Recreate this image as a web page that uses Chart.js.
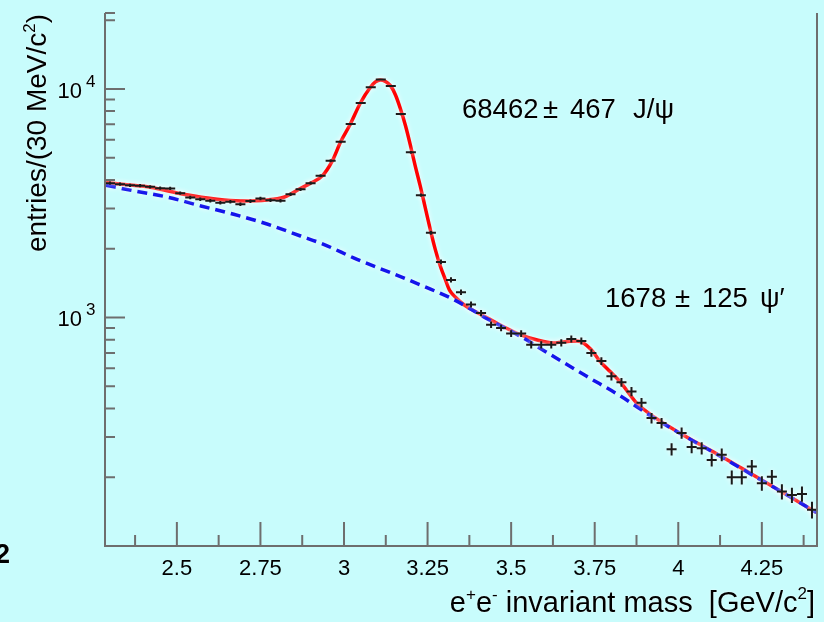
<!DOCTYPE html>
<html>
<head>
<meta charset="utf-8">
<script src="https://cdn.jsdelivr.net/npm/chart.js@4.4.1/dist/chart.umd.min.js"></script>
<style>
  html, body { margin: 0; padding: 0; background: rgb(200,252,252); }
  canvas { display: block; }
</style>
</head>
<body>
<canvas id="mass" width="824" height="622"></canvas>
<script>
// e+e- invariant mass spectrum, 30 MeV/c^2 bins
const binCentres = [
  2.30, 2.33, 2.36, 2.39, 2.42, 2.45, 2.48, 2.51, 2.54, 2.57, 2.60, 2.63,
  2.66, 2.69, 2.72, 2.75, 2.78, 2.81, 2.84, 2.87, 2.90, 2.93, 2.96, 2.99,
  3.02, 3.05, 3.08, 3.11, 3.14, 3.17, 3.20, 3.23, 3.26, 3.29, 3.32, 3.35,
  3.38, 3.41, 3.44, 3.47, 3.50, 3.53, 3.56, 3.59, 3.62, 3.65, 3.68, 3.71,
  3.74, 3.77, 3.80, 3.83, 3.86, 3.89, 3.92, 3.95, 3.98, 4.01, 4.04, 4.07,
  4.10, 4.13, 4.16, 4.19, 4.22, 4.25, 4.28, 4.31, 4.34, 4.37, 4.40
];
const entries = [
  3870, 3830, 3790, 3775, 3730, 3680, 3670, 3500, 3350, 3290, 3240, 3180,
  3210, 3130, 3230, 3315, 3260, 3240, 3460, 3640, 3870, 4170, 4850, 5870,
  7020, 8680, 10170, 11000, 10300, 7770, 5280, 3430, 2350, 1750, 1460, 1290,
  1140, 1045, 930, 900, 850, 850, 760, 760, 760, 775, 805, 790,
  700, 645, 553, 521, 474, 424, 363, 345, 265, 312, 271, 268,
  238, 251, 200, 200, 223, 188, 201, 173, 167, 169, 144
];

// total fit: J/psi + psi' signal on top of the background
const fitMass = [
  2.288, 2.350, 2.420, 2.520, 2.620, 2.690, 2.770, 2.820, 2.840, 2.865,
  2.900, 2.935, 2.965, 2.990, 3.019, 3.049, 3.079, 3.094, 3.109, 3.124,
  3.139, 3.154, 3.169, 3.184, 3.199, 3.213, 3.228, 3.243, 3.258, 3.273,
  3.288, 3.303, 3.316, 3.336, 3.358, 3.393, 3.428, 3.476, 3.527, 3.578,
  3.626, 3.652, 3.676, 3.697, 3.716, 3.739, 3.766, 3.796, 3.825, 3.875,
  3.924, 4.025, 4.124, 4.223, 4.323, 4.413
];
const fitTotal = [
  3900, 3810, 3717, 3463, 3292, 3237, 3270, 3360, 3463, 3642,
  3870, 4166, 4848, 5873, 7024, 8682, 10174, 10733, 10952, 10787,
  10339, 9412, 8172, 6902, 5640, 4608, 3766, 3028, 2432, 1987,
  1679, 1468, 1313, 1218, 1140, 1062, 997, 913, 842, 797,
  774, 781, 787, 789, 774, 724, 643, 580, 525, 423,
  370, 300, 249, 205, 168, 140
];

// background component of the fit
const bkgMass = [
  2.288, 2.372, 2.473, 2.572, 2.670, 2.772, 2.870, 2.939, 3.039, 3.139,
  3.237, 3.328, 3.428, 3.527, 3.626, 3.726, 3.825, 3.924, 4.025, 4.124,
  4.223, 4.323, 4.413
];
const bkgValues = [
  3793, 3580, 3360, 3077, 2830, 2558, 2273, 2090, 1796, 1571,
  1372, 1199, 988, 828, 676, 553, 455, 366, 299, 248,
  204, 168, 140
];

// axis ticks
const xTickValues = [2.5, 2.75, 3, 3.25, 3.5, 3.75, 4, 4.25];
const xTickLabels = ['2.5', '2.75', '3', '3.25', '3.5', '3.75', '4', '4.25'];
const xMinorTicks = [2.375, 2.625, 2.875, 3.125, 3.375, 3.625, 3.875, 4.125, 4.375];
const yDecades = [1000, 10000];
const yDecadeExponents = ['3', '4'];
const yMinorTicks = [200, 300, 400, 500, 600, 700, 800, 900,
  2000, 3000, 4000, 5000, 6000, 7000, 8000, 9000, 20000];

// fitted yields
const jpsiYield = ['68462', '\u00b1', '467', 'J/\u03c8'];
const psi2sYield = ['1678', '\u00b1', '125', '\u03c8\u2032'];

const binHalfWidth = 0.015;

const FONT = '"Liberation Sans", Arial, Helvetica, sans-serif';
const BG = 'rgb(200,252,252)';
const AXIS = '#6e6e6e';

function runsWidth(ctx, runs) {
  let w = 0;
  for (const r of runs) {
    ctx.font = (r.bold ? 'bold ' : '') + r.size + 'px ' + FONT;
    w += ctx.measureText(r.t).width;
  }
  return w;
}
function drawRuns(ctx, runs, x, y) {
  for (const r of runs) {
    ctx.font = (r.bold ? 'bold ' : '') + r.size + 'px ' + FONT;
    ctx.fillText(r.t, x, y - (r.rise || 0));
    x += ctx.measureText(r.t).width;
  }
}

// canvas background, data points with errors, frame, ticks and texts
const decorations = {
  id: 'decorations',
  beforeDraw(chart) {
    const ctx = chart.ctx;
    ctx.save();
    ctx.fillStyle = BG;
    ctx.fillRect(0, 0, chart.width, chart.height);
    ctx.restore();
  },
  beforeDatasetsDraw(chart) {
    const ctx = chart.ctx;
    ctx.save();
    ctx.shadowColor = 'rgba(255,255,255,0.95)';
    ctx.shadowBlur = 5;
  },
  afterDatasetsDraw(chart) {
    const ctx = chart.ctx;
    const x = chart.scales.x, y = chart.scales.y;
    // data points: bin width horizontally, Poisson error vertically
    ctx.strokeStyle = '#1a1a1a';
    ctx.lineWidth = 2;
    ctx.beginPath();
    binCentres.forEach((m, i) => {
      const n = entries[i];
      const px = x.getPixelForValue(m);
      const py = y.getPixelForValue(n);
      const x0 = x.getPixelForValue(m - binHalfWidth);
      const x1 = x.getPixelForValue(m + binHalfWidth);
      const e = Math.sqrt(n);
      ctx.moveTo(x0, py); ctx.lineTo(x1, py);
      ctx.moveTo(px, y.getPixelForValue(n + e)); ctx.lineTo(px, y.getPixelForValue(n - e));
    });
    ctx.stroke();
    ctx.restore();
  },
  afterDraw(chart) {
    const ctx = chart.ctx;
    const a = chart.chartArea;
    const x = chart.scales.x, y = chart.scales.y;
    ctx.save();
    ctx.strokeStyle = AXIS;
    ctx.lineWidth = 2;
    ctx.beginPath();
    ctx.moveTo(a.left, a.top); ctx.lineTo(a.left, a.bottom);
    ctx.lineTo(a.right, a.bottom); ctx.lineTo(a.right, a.top);
    ctx.moveTo(a.left, a.top); ctx.lineTo(a.left + 10, a.top);
    // x ticks, pointing into the frame
    xTickValues.forEach(v => {
      const p = x.getPixelForValue(v);
      ctx.moveTo(p, a.bottom); ctx.lineTo(p, a.bottom - 24);
    });
    xMinorTicks.forEach(v => {
      const p = x.getPixelForValue(v);
      ctx.moveTo(p, a.bottom); ctx.lineTo(p, a.bottom - 11);
    });
    // y ticks
    yDecades.forEach(v => {
      const p = y.getPixelForValue(v);
      ctx.moveTo(a.left, p); ctx.lineTo(a.left + 20, p);
    });
    yMinorTicks.forEach(v => {
      const p = y.getPixelForValue(v);
      ctx.moveTo(a.left, p); ctx.lineTo(a.left + 10, p);
    });
    ctx.stroke();

    ctx.fillStyle = '#000';
    ctx.textBaseline = 'alphabetic';
    ctx.textAlign = 'left';
    ctx.shadowColor = 'rgba(255,255,255,0.8)';
    ctx.shadowBlur = 2;

    // y tick labels 10^n
    yDecades.forEach((v, i) => {
      const p = y.getPixelForValue(v);
      ctx.font = '22px ' + FONT;
      const w = ctx.measureText('10').width;
      ctx.fillText('10', 82 - w, p + 9);
      ctx.font = '17px ' + FONT;
      ctx.fillText(yDecadeExponents[i], 86, p - 2);
    });

    // y axis title
    ctx.save();
    ctx.translate(46, 133);
    ctx.rotate(-Math.PI / 2);
    const yTitle = [
      { t: 'entries/(30 MeV/c', size: 28 },
      { t: '2', size: 17, rise: 11 },
      { t: ')', size: 28 }
    ];
    drawRuns(ctx, yTitle, -runsWidth(ctx, yTitle) / 2, 0);
    ctx.restore();

    // x axis title
    const xTitle = [
      { t: 'e', size: 29 },
      { t: '+', size: 17, rise: 12 },
      { t: 'e', size: 29 },
      { t: '-', size: 17, rise: 12 },
      { t: ' invariant mass  [GeV/c', size: 29 },
      { t: '2', size: 17, rise: 13 },
      { t: ']', size: 29 }
    ];
    drawRuns(ctx, xTitle, 815 - runsWidth(ctx, xTitle), 612);

    // fitted yields
    ctx.font = '27.5px ' + FONT;
    const l1 = [462, 543, 570, 633];
    jpsiYield.forEach((t, i) => ctx.fillText(t, l1[i], 118));
    const l2 = [605, 675, 702, 760];
    psi2sYield.forEach((t, i) => ctx.fillText(t, l2[i], 306.5));

    // stray exponent at the lower left
    ctx.font = 'bold 27px ' + FONT;
    ctx.textAlign = 'right';
    ctx.fillText('2', 10, 563);
    ctx.restore();
  }
};

new Chart(document.getElementById('mass'), {
  type: 'scatter',
  data: {
    datasets: [
      {
        label: 'fit',
        order: 2,
        data: fitMass.map((m, i) => ({ x: m, y: fitTotal[i] })),
        showLine: true,
        borderColor: '#ff0000',
        borderWidth: 3.5,
        pointRadius: 0,
        cubicInterpolationMode: 'monotone'
      },
      {
        label: 'background',
        order: 1,
        data: bkgMass.map((m, i) => ({ x: m, y: bkgValues[i] })),
        showLine: true,
        borderColor: 'rgb(20,20,235)',
        borderWidth: 3.5,
        borderDash: [10, 6],
        pointRadius: 0,
        cubicInterpolationMode: 'monotone'
      },
      {
        label: 'data',
        order: 0,
        data: binCentres.map((m, i) => ({ x: m, y: entries[i] })),
        showLine: false,
        pointRadius: 0
      }
    ]
  },
  options: {
    responsive: false,
    animation: false,
    events: [],
    layout: { padding: { top: 13, right: 7, left: 0, bottom: 0 } },
    plugins: { legend: { display: false }, tooltip: { enabled: false } },
    scales: {
      x: {
        type: 'linear',
        min: 2.285,
        max: 4.415,
        grid: { display: false, drawTicks: false },
        border: { display: false },
        afterBuildTicks(scale) { scale.ticks = xTickValues.map(v => ({ value: v })); },
        ticks: {
          autoSkip: false,
          maxRotation: 0,
          padding: 10,
          color: '#000',
          font: { family: FONT, size: 22 },
          callback: (v, i) => xTickLabels[i]
        },
        afterFit(scale) { scale.height = 76; }
      },
      y: {
        type: 'logarithmic',
        min: 100,
        max: 21500,
        grid: { display: false, drawTicks: false },
        border: { display: false },
        ticks: { display: false },
        afterFit(scale) { scale.width = 105; }
      }
    }
  },
  plugins: [decorations]
});
</script>
</body>
</html>
